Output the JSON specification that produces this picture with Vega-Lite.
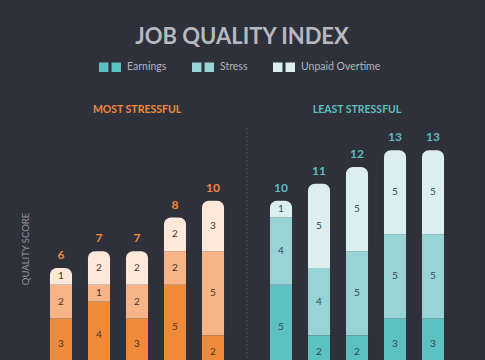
{
  "$schema": "https://vega.github.io/schema/vega-lite/v6.json",
  "width": 410,
  "height": 241,
  "autosize": {"type": "none"},
  "padding": {"left": 42, "top": 128, "right": 33, "bottom": 0},
  "background": "#2e303a",
  "config": {"view": {"stroke": null}, "font": "Lato"},
  "title": {
    "text": "JOB QUALITY INDEX",
    "anchor": "middle",
    "frame": "group",
    "fontSize": 22,
    "font": "Lato",
    "fontWeight": "bold",
    "color": "#b7b9c0",
    "offset": 7,
    "dx": -5
  },
  "data": {
    "values": [
      {"group": "MOST STRESSFUL", "rank": 1, "cat": "Earnings", "value": 3, "total": 6},
      {"group": "MOST STRESSFUL", "rank": 1, "cat": "Stress", "value": 2, "total": 6},
      {"group": "MOST STRESSFUL", "rank": 1, "cat": "Unpaid Overtime", "value": 1, "total": 6},
      {"group": "MOST STRESSFUL", "rank": 2, "cat": "Earnings", "value": 4, "total": 7},
      {"group": "MOST STRESSFUL", "rank": 2, "cat": "Stress", "value": 1, "total": 7},
      {"group": "MOST STRESSFUL", "rank": 2, "cat": "Unpaid Overtime", "value": 2, "total": 7},
      {"group": "MOST STRESSFUL", "rank": 3, "cat": "Earnings", "value": 3, "total": 7},
      {"group": "MOST STRESSFUL", "rank": 3, "cat": "Stress", "value": 2, "total": 7},
      {"group": "MOST STRESSFUL", "rank": 3, "cat": "Unpaid Overtime", "value": 2, "total": 7},
      {"group": "MOST STRESSFUL", "rank": 4, "cat": "Earnings", "value": 5, "total": 8},
      {"group": "MOST STRESSFUL", "rank": 4, "cat": "Stress", "value": 2, "total": 8},
      {"group": "MOST STRESSFUL", "rank": 4, "cat": "Unpaid Overtime", "value": 2, "total": 8},
      {"group": "MOST STRESSFUL", "rank": 5, "cat": "Earnings", "value": 2, "total": 10},
      {"group": "MOST STRESSFUL", "rank": 5, "cat": "Stress", "value": 5, "total": 10},
      {"group": "MOST STRESSFUL", "rank": 5, "cat": "Unpaid Overtime", "value": 3, "total": 10},
      {"group": "LEAST STRESSFUL", "rank": 1, "cat": "Earnings", "value": 5, "total": 10},
      {"group": "LEAST STRESSFUL", "rank": 1, "cat": "Stress", "value": 4, "total": 10},
      {"group": "LEAST STRESSFUL", "rank": 1, "cat": "Unpaid Overtime", "value": 1, "total": 10},
      {"group": "LEAST STRESSFUL", "rank": 2, "cat": "Earnings", "value": 2, "total": 11},
      {"group": "LEAST STRESSFUL", "rank": 2, "cat": "Stress", "value": 4, "total": 11},
      {"group": "LEAST STRESSFUL", "rank": 2, "cat": "Unpaid Overtime", "value": 5, "total": 11},
      {"group": "LEAST STRESSFUL", "rank": 3, "cat": "Earnings", "value": 2, "total": 12},
      {"group": "LEAST STRESSFUL", "rank": 3, "cat": "Stress", "value": 5, "total": 12},
      {"group": "LEAST STRESSFUL", "rank": 3, "cat": "Unpaid Overtime", "value": 5, "total": 12},
      {"group": "LEAST STRESSFUL", "rank": 4, "cat": "Earnings", "value": 3, "total": 13},
      {"group": "LEAST STRESSFUL", "rank": 4, "cat": "Stress", "value": 5, "total": 13},
      {"group": "LEAST STRESSFUL", "rank": 4, "cat": "Unpaid Overtime", "value": 5, "total": 13},
      {"group": "LEAST STRESSFUL", "rank": 5, "cat": "Earnings", "value": 3, "total": 13},
      {"group": "LEAST STRESSFUL", "rank": 5, "cat": "Stress", "value": 5, "total": 13},
      {"group": "LEAST STRESSFUL", "rank": 5, "cat": "Unpaid Overtime", "value": 5, "total": 13}
    ]
  },
  "transform": [
    {"stack": "value", "groupby": ["group", "rank"], "sort": [{"field": "cat", "order": "ascending"}], "as": ["y0", "y1"]},
    {"calculate": "(datum.y0 + datum.y1) / 2", "as": "mid"}
  ],
  "encoding": {
    "x": {
      "field": "group",
      "type": "nominal",
      "sort": ["MOST STRESSFUL", "LEAST STRESSFUL"],
      "scale": {"paddingInner": 0.13636, "paddingOuter": 0},
      "axis": {
        "orient": "top",
        "title": null,
        "domain": false,
        "ticks": false,
        "tickSize": 0,
        "grid": false,
        "labelAngle": 0,
        "labelPadding": 14,
        "labelFont": "Lato",
        "labelFontSize": 10.5,
        "labelFontWeight": "bold",
        "labelColor": {"condition": {"test": "datum.value == 'MOST STRESSFUL'", "value": "#ee8b3e"}, "value": "#5cbfc1"}
      }
    }
  },
  "layer": [
    {
      "transform": [{"filter": "datum.group == 'MOST STRESSFUL'"}],
      "mark": {
        "type": "bar",
        "cornerRadiusTopLeft": {"expr": "datum.cat == 'Unpaid Overtime' ? 7 : 0"},
        "cornerRadiusTopRight": {"expr": "datum.cat == 'Unpaid Overtime' ? 7 : 0"}
      },
      "encoding": {
        "xOffset": {"field": "rank", "type": "ordinal", "scale": {"paddingInner": 0.42, "paddingOuter": 0.21}},
        "y": {
          "field": "y1",
          "type": "quantitative",
          "scale": {"domain": [0, 14.32], "nice": false, "zero": true},
          "axis": {
            "title": "QUALITY SCORE",
            "titleColor": "#8e9199",
            "titleFont": "Lato",
            "titleFontWeight": "normal",
            "titleFontSize": 9.5,
            "labels": false,
            "ticks": false,
            "domain": false,
            "grid": false,
            "titlePadding": 12
          }
        },
        "y2": {"field": "y0"},
        "fill": {
          "field": "cat",
          "type": "nominal",
          "scale": {"domain": ["Earnings", "Stress", "Unpaid Overtime", "other"], "range": ["#ef8a3a", "#f6b487", "#fde8d9", "#fde8d9"]},
          "legend": null
        }
      }
    },
    {
      "transform": [{"filter": "datum.group == 'LEAST STRESSFUL'"}],
      "mark": {
        "type": "bar",
        "cornerRadiusTopLeft": {"expr": "datum.cat == 'Unpaid Overtime' ? 7 : 0"},
        "cornerRadiusTopRight": {"expr": "datum.cat == 'Unpaid Overtime' ? 7 : 0"}
      },
      "encoding": {
        "xOffset": {"field": "rank", "type": "ordinal"},
        "y": {"field": "y1", "type": "quantitative"},
        "y2": {"field": "y0"},
        "color": {
          "field": "cat",
          "type": "nominal",
          "scale": {"domain": ["Earnings", "Stress", "Unpaid Overtime"], "range": ["#5dc0c1", "#98d3d6", "#dbeff1"]},
          "legend": {
            "title": null,
            "orient": "none",
            "legendX": 57,
            "legendY": -72,
            "direction": "horizontal",
            "symbolType": "M-1,-0.43H-0.14V0.43H-1Z M0.14,-0.43H1V0.43H0.14Z",
            "symbolSize": 484,
            "symbolStrokeWidth": 0,
            "symbolOpacity": 1,
            "labelColor": "#b3b6bd",
            "labelFont": "Lato",
            "labelFontSize": 10.5,
            "labelOffset": 6,
            "columnPadding": 25
          }
        }
      }
    },
    {
      "mark": {
        "type": "text",
        "font": "Lato",
        "fontSize": 10,
        "fill": {"expr": "datum.group == 'MOST STRESSFUL' ? '#4a3526' : '#2d4a51'"}
      },
      "encoding": {
        "xOffset": {"field": "rank", "type": "ordinal"},
        "y": {"field": "mid", "type": "quantitative"},
        "text": {"field": "value", "type": "quantitative"}
      }
    },
    {
      "transform": [{"aggregate": [{"op": "sum", "field": "value", "as": "top"}], "groupby": ["group", "rank", "total"]}],
      "mark": {
        "type": "text",
        "font": "Lato",
        "fontSize": 12,
        "fontWeight": "bold",
        "baseline": "bottom",
        "dy": -6,
        "fill": {"expr": "datum.group == 'MOST STRESSFUL' ? '#ee8b3e' : '#5cbfc1'"}
      },
      "encoding": {
        "xOffset": {"field": "rank", "type": "ordinal"},
        "y": {"field": "top", "type": "quantitative"},
        "text": {"field": "total", "type": "quantitative"}
      }
    },
    {
      "data": {"values": [{"group": "MOST STRESSFUL"}]},
      "mark": {"type": "rule", "strokeDash": [2, 2], "color": "#4a4e5c", "strokeWidth": 1},
      "encoding": {
        "x": {"field": "group", "type": "nominal", "bandPosition": 1.079}
      }
    }
  ]
}
